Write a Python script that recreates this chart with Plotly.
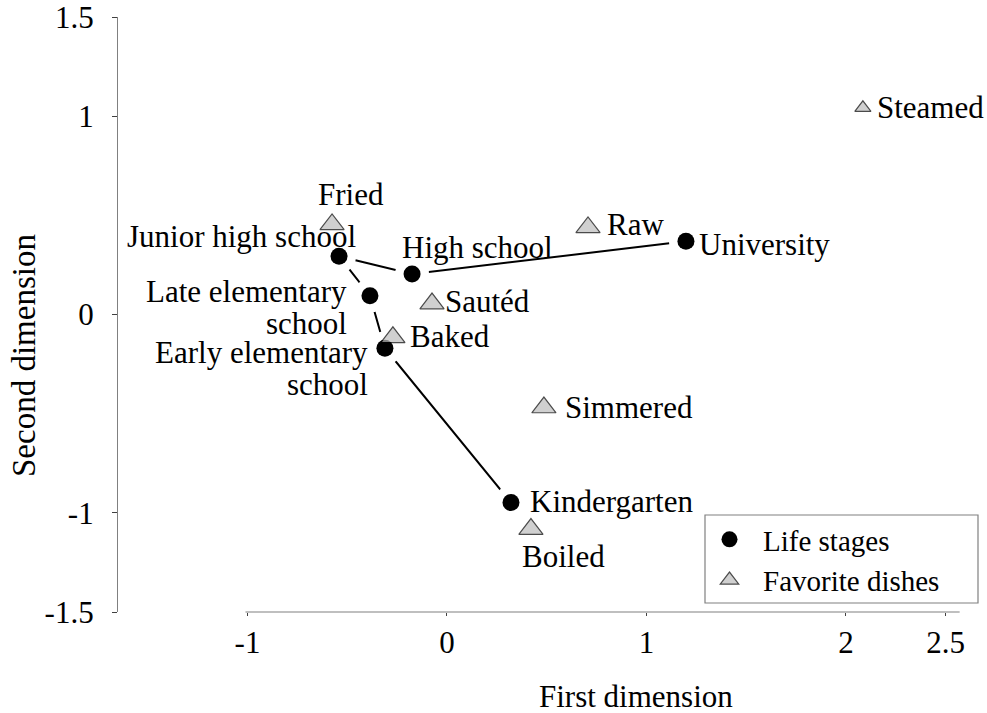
import plotly.graph_objects as go

# ---------------- data ----------------
stage_names = ["Kindergarten", "Early elementary<br>school", "Late elementary<br>school",
               "Junior high school", "High school", "University"]
stage_x = [0.321, -0.311, -0.386, -0.541, -0.175, 1.198]
stage_y = [-0.948, -0.170, 0.095, 0.294, 0.204, 0.369]

dish_names = ["Fried", "Raw", "Sautéd", "Baked", "Simmered", "Boiled", "Steamed"]
dish_x = [-0.576, 0.707, -0.075, -0.271, 0.486, 0.421, 2.085]
dish_y = [0.454, 0.439, 0.055, -0.115, -0.469, -1.082, 1.042]

x_tick_vals = [-1, 0, 1, 2, 2.5]
x_tick_text = ["-1", "0", "1", "2", "2.5"]
y_tick_vals = [-1.5, -1, 0, 1, 1.5]
y_tick_text = ["-1.5", "-1", "0", "1", "1.5"]

# ---------------- styles ----------------
FONT = "Liberation Serif, Times New Roman, serif"
FS = 31
dish_sizes = [21, 21, 21, 21, 21, 21, 14]
# label placement: (xanchor, xshift, yshift) in pixels
stage_label_pos = [("left", 17, 1), ("right", -15, -4), ("right", -21, 4),
                   ("right", 19, 20), ("left", -12, 27), ("left", 11, -3)]
dish_label_pos = [("center", 19, 30), ("left", 17, 3), ("left", 11, 2), ("left", 15, 1),
                  ("left", 19, 0), ("center", 33, -27), ("left", 12, 0)]
LINE_GAP = 32

W, H = 987, 713
# Plot area in page coords
PX0, PX1, PY0, PY1 = 118, 978, 17, 612
PW, PH = PX1 - PX0, PY1 - PY0


def px(xp):
    return (xp - PX0) / PW


def py(yp):
    return (PY1 - yp) / PH


fig = go.Figure()
fig.add_trace(go.Scatter(x=stage_x, y=stage_y, mode="lines",
                         line=dict(color="black", width=2),
                         showlegend=False, hoverinfo="skip"))
fig.add_trace(go.Scatter(x=stage_x, y=stage_y, mode="markers",
                         marker=dict(color="white", size=34),
                         showlegend=False, hoverinfo="skip"))
fig.add_trace(go.Scatter(x=stage_x, y=stage_y, mode="markers", name="Life stages",
                         marker=dict(color="black", size=17, symbol="circle"),
                         text=[n.replace("<br>", " ") for n in stage_names],
                         hoverinfo="text"))
fig.add_trace(go.Scatter(x=dish_x, y=dish_y, mode="markers", name="Favorite dishes",
                         marker=dict(color="#bdbdbd", size=dish_sizes, symbol="triangle-up",
                                     line=dict(color="black", width=1.2)),
                         text=dish_names, hoverinfo="text"))

annotations = []


def add_label(x, y, text, pos):
    anchor, xs, ys = pos
    for i, line in enumerate(text.split("<br>")):
        annotations.append(dict(x=x, y=y, xref="x", yref="y", text=line, showarrow=False,
                                xanchor=anchor, yanchor="middle", xshift=xs,
                                yshift=ys - i * LINE_GAP,
                                font=dict(family=FONT, size=FS, color="black")))


for x, y, t, p in zip(stage_x, stage_y, stage_names, stage_label_pos):
    add_label(x, y, t, p)
for x, y, t, p in zip(dish_x, dish_y, dish_names, dish_label_pos):
    add_label(x, y, t, p)

annotations.append(dict(x=px(636), y=py(696), xref="paper", yref="paper",
                        text="First dimension", showarrow=False,
                        xanchor="center", yanchor="middle",
                        font=dict(family=FONT, size=FS, color="black")))
annotations.append(dict(x=px(24), y=py(356), xref="paper", yref="paper",
                        text="Second dimension", showarrow=False,
                        xanchor="center", yanchor="middle", textangle=-90,
                        font=dict(family=FONT, size=33, color="black")))

fig.update_layout(
    width=W, height=H,
    margin=dict(l=PX0, r=W - PX1, t=PY0, b=H - PY1, autoexpand=False),
    paper_bgcolor="white", plot_bgcolor="white",
    font=dict(family=FONT, size=FS, color="black"),
    annotations=annotations,
    shapes=[
        dict(type="line", xref="x", yref="paper", x0=-1.01, x1=2.57, y0=0, y1=0,
             line=dict(color="#808080", width=1.2)),
        dict(type="rect", xref="paper", yref="paper", x0=px(705), x1=px(978),
             y0=py(603), y1=py(515), fillcolor="white",
             line=dict(color="#808080", width=1.2)),
    ],
    legend=dict(x=px(696), xanchor="left", y=py(560), yanchor="middle",
                borderwidth=0, bgcolor="rgba(0,0,0,0)",
                font=dict(family=FONT, size=29, color="black"),
                itemsizing="trace", itemwidth=57),
)
fig.update_xaxes(range=[-1.649, 2.662], showgrid=False, zeroline=False, showline=False,
                 automargin=False,
                 tickvals=x_tick_vals, ticktext=x_tick_text, ticks="outside", ticklen=3,
                 tickcolor="#404040", tickfont=dict(family=FONT, size=FS, color="black"),
                 ticklabelstandoff=0, ticklabeloverflow="allow")
fig.update_yaxes(range=[-1.5, 1.5], showgrid=False, zeroline=False, showline=True,
                 automargin=False,
                 linecolor="#808080", linewidth=1.2,
                 tickvals=y_tick_vals, ticktext=y_tick_text, ticks="outside", ticklen=5,
                 tickcolor="#404040", tickfont=dict(family=FONT, size=FS, color="black"),
                 ticklabelstandoff=12, ticklabeloverflow="allow")

fig.write_html("out.html", config={"displayModeBar": False},
               post_script="document.body.style.margin='0px';"
                           "document.body.style.overflow='hidden';")
